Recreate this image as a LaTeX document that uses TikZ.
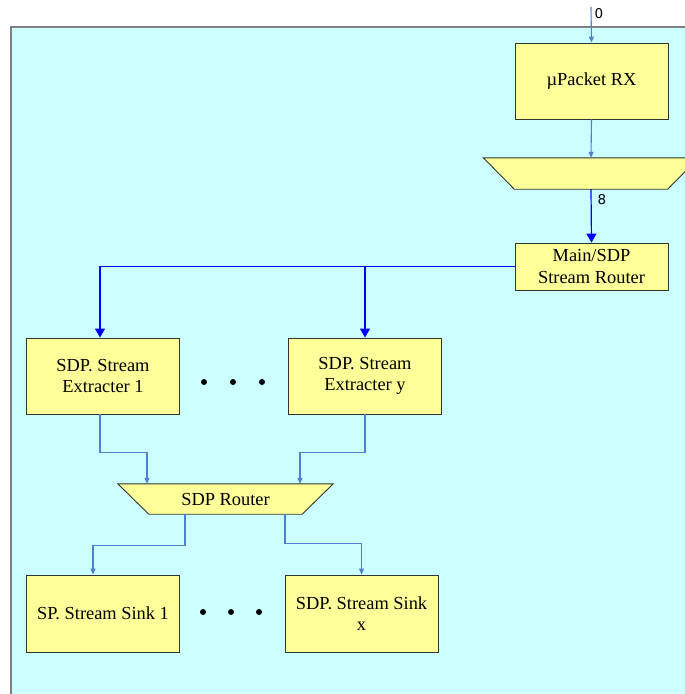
\documentclass[tikz,border=0pt]{standalone}
\usepackage{fontspec}
\setmainfont{Liberation Serif}
\newfontfamily\labelfont{DejaVu Sans}
\usetikzlibrary{arrows.meta}
\definecolor{bgcyan}{HTML}{CCFFFF}
\definecolor{boxyellow}{HTML}{FFFF99}
\definecolor{linkblue}{HTML}{4F7FCF}
\definecolor{busblue}{HTML}{0000FF}
\tikzset{
    block/.style={draw=black!80, fill=boxyellow, line width=0.9pt,
        minimum width=153pt, minimum height=76pt, inner sep=2pt,
        align=center, font=\fontsize{18.4}{21.5}\selectfont},
    funnel/.style={minimum width=153pt, inner sep=0pt},
    funnelline/.style={draw=black!80, fill=boxyellow, line width=0.9pt},
    blocktext/.style={font=\fontsize{18.4}{21.5}\selectfont},
    link/.style={draw=linkblue, line width=1.1pt,
        -{Triangle[width=5pt,length=6pt]}},
    bus/.style={draw=busblue, line width=1.2pt,
        -{Triangle[width=10pt,length=9pt]}},
    wirelabel/.style={font=\labelfont\fontsize{13.5}{15}\selectfont, anchor=west}
}
\begin{document}
\begin{tikzpicture}[x=1pt,y=-1pt]
    \useasboundingbox (0,0) rectangle (685,694);
    % background frame
    \fill[bgcyan] (11,27) rectangle (685,694);
    \draw[gray, line width=2pt] (11,694) -- (11,27) -- (685,27);
    % receive chain
    \coordinate (in) at (591,7);
    \node[block] (rx) at (591.5,81) {µPacket RX};
    \node[funnel, minimum height=31pt] (demux) at (591,173.5) {};
    \draw[funnelline] (demux.south west) -- (demux.south east)
        -- ([xshift=31pt]demux.north east) -- ([xshift=-31pt]demux.north west) -- cycle;
    \node[block, minimum height=47pt] (main) at (591.5,266.5) {Main/SDP\\Stream Router};
    \draw[link] (in) -- (rx.north);
    \node[wirelabel] (inlabel) at (591,14) {0};
    \draw[link] (rx.south) -- (demux.north);
    \draw[bus] (demux.south) -- (main.north);
    \node[wirelabel] (buslabel) at (594,200) {8};
    % stream extracters
    \node[block] (ext1) at (103,376) {SDP. Stream\\Extracter 1};
    \node[block] (exty) at (365,376) {SDP. Stream\\Extracter y};
    \draw[bus] (main.west) -| ([xshift=-3pt]ext1.north);
    \draw[bus] (main.west) -| (exty.north);
    \foreach \x in {204,233,262}
        \fill (\x,382) circle (3pt);
    % sdp router
    \node[funnel, minimum height=30pt] (router) at (225.5,499) {};
    \draw[funnelline] (router.south west) -- (router.south east)
        -- ([xshift=31pt]router.north east) -- ([xshift=-31pt]router.north west) -- cycle;
    \node[blocktext] (routertext) at (router) {SDP Router};
    \draw[link] ([xshift=-3pt]ext1.south) -- ++(0,38) -| ([xshift=-78.5pt]router.north);
    \draw[link] (exty.south) -- ++(0,38) -| ([xshift=74.5pt]router.north);
    % stream sinks
    \node[block, minimum height=77pt] (sink1) at (103,613.5) {SP. Stream Sink 1};
    \node[block, minimum height=77pt] (sinkx) at (361.5,613.5) {SDP. Stream Sink\\x};
    \draw[link] ([xshift=-40.5pt]router.south) -- ++(0,31) -| ([xshift=-10pt]sink1.north);
    \draw[link] ([xshift=59.5pt]router.south) -- ++(0,29) -| (sinkx.north);
    \foreach \x in {203,231,259}
        \fill (\x,612) circle (3pt);
\end{tikzpicture}
\end{document}
